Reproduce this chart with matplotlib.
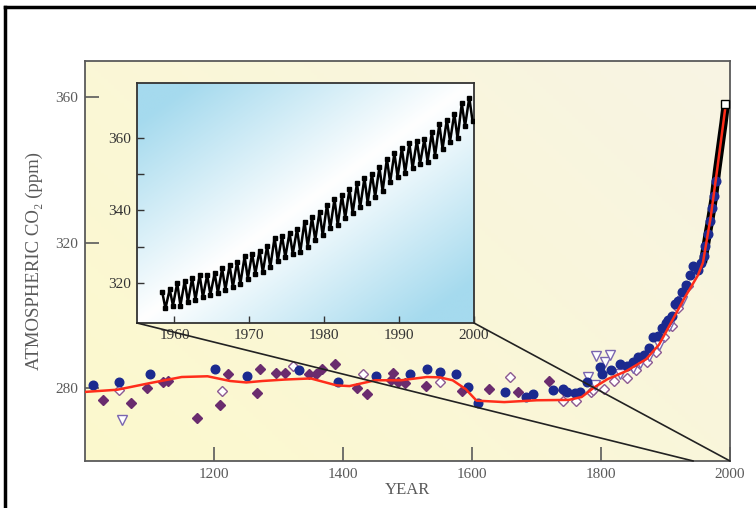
import numpy as np
import matplotlib
matplotlib.use("Agg")
import matplotlib.pyplot as plt
from matplotlib.patches import ConnectionPatch
from matplotlib.lines import Line2D

plt.rcParams['font.family'] = ['Liberation Serif', 'DejaVu Serif']

# ice core data
circle_years = [1013, 1053, 1101, 1202, 1251, 1332, 1393, 1451, 1504, 1530, 1551, 1575, 1594, 1609,
                1651, 1684, 1695, 1726, 1741, 1747, 1760, 1767, 1778, 1798, 1801, 1815, 1829, 1840,
                1850, 1858, 1866, 1875, 1881, 1888, 1894, 1900, 1904, 1910, 1915, 1920, 1925, 1932,
                1938, 1943, 1950, 1955, 1959, 1962, 1966, 1969, 1972, 1975, 1978]
circle_vals = [280.8, 281.7, 283.9, 285.4, 283.3, 285.0, 281.7, 283.3, 284.0, 285.2, 284.5, 283.8, 280.4, 276.0,
               279.0, 277.6, 278.3, 279.4, 279.7, 279.0, 278.7, 279.0, 281.7, 285.9, 284.0, 285.0, 286.8, 286.0,
               287.3, 288.5, 289.1, 291.0, 294.2, 294.5, 296.7, 298.0, 298.8, 300.0, 303.2, 304.0, 306.6, 308.5,
               311.2, 313.5, 312.5, 314.5, 316.5, 319.0, 322.5, 326.0, 329.5, 333.0, 337.0]

diamond_years = [1028, 1072, 1096, 1121, 1128, 1173, 1209, 1222, 1266, 1271, 1296, 1310, 1348, 1358,
                 1367, 1388, 1422, 1437, 1475, 1478, 1486, 1496, 1529, 1585, 1627, 1672, 1720, 1741]
diamond_vals = [276.9, 276.0, 280.2, 281.6, 282.0, 271.8, 275.5, 283.9, 278.7, 285.4, 284.3, 284.3, 283.8, 284.0,
                285.4, 286.6, 280.2, 278.3, 282.2, 284.3, 281.7, 281.5, 280.6, 279.2, 279.9, 279.0, 282.0, 279.6]

open_dia_years = [1053, 1212, 1323, 1431, 1550, 1659, 1741, 1762, 1785, 1788, 1804, 1820, 1840, 1855,
                  1871, 1886, 1897, 1910, 1920, 1935]
open_dia_vals = [279.4, 279.2, 286.1, 283.9, 281.7, 283.0, 276.4, 276.4, 279.0, 279.4, 279.9, 282.0, 282.7, 285.0,
                 287.3, 290.0, 294.2, 297.0, 302.0, 308.0]

tri_years = [1058, 1780, 1790, 1793, 1806, 1814, 1830, 1850, 1860, 1875, 1890, 1905, 1925]
tri_vals = [271.2, 283.0, 281.0, 288.8, 287.3, 289.1, 284.0, 285.5, 287.0, 289.0, 292.0, 297.0, 304.0]

# smoothed fit (red)
fit_years = [1000, 1050, 1100, 1150, 1190, 1225, 1250, 1275, 1310, 1350, 1390, 1410, 1450, 1490, 1530,
             1550, 1570, 1590, 1607, 1650, 1700, 1750, 1770, 1790, 1810, 1840, 1870, 1890, 1910, 1930,
             1950, 1958, 1970, 1980, 1993]
fit_vals = [279.0, 279.6, 281.4, 283.1, 283.3, 282.0, 281.6, 282.0, 282.4, 282.7, 280.8, 280.6, 282.2, 282.2, 283.1,
            283.0, 282.2, 279.8, 276.6, 276.2, 276.7, 276.8, 277.6, 280.3, 282.5, 284.8, 288.0, 292.0, 298.5, 305.0,
            311.0, 314.5, 327.0, 340.0, 357.5]

# Mauna Loa record in the main panel
ml_years = [1958, 1965, 1970, 1975, 1980, 1985, 1990, 1993]
ml_vals = [314.5, 322.0, 327.0, 332.5, 340.0, 346.5, 353.0, 357.5]

# inset: yearly peaks and troughs
inset_years = list(range(1958, 2000))
inset_peaks = [317.5, 318.3, 320.0, 320.6, 321.4, 322.2, 322.2, 322.7, 324.0, 324.9, 325.8, 327.3, 328.1, 328.9,
               330.1, 332.5, 333.0, 333.8, 334.8, 336.9, 338.1, 339.6, 341.5, 343.1, 344.1, 345.8, 347.4, 348.9,
               350.0, 351.8, 354.2, 355.7, 357.1, 358.4, 359.1, 359.6, 361.4, 363.7, 364.9, 366.6, 369.4, 371.0]
inset_troughs = [313.0, 313.8, 313.8, 314.8, 315.4, 316.1, 316.8, 317.3, 318.2, 318.9, 319.8, 321.2, 322.6, 323.0,
                 324.4, 326.1, 327.1, 328.0, 328.5, 330.0, 331.8, 333.1, 335.0, 336.0, 337.9, 339.3, 340.8, 342.1,
                 343.7, 345.3, 347.7, 349.2, 350.3, 351.6, 352.8, 353.4, 355.0, 356.9, 358.9, 359.8, 363.1, 364.6]

grey = '#5a5a5a'
fig = plt.figure(figsize=(7.56, 5.08), dpi=100)

ax = fig.add_axes([85/756, 47/508, 645/756, 400/508])
ax.set_xlim(1000, 2000)
ax.set_ylim(260, 370)

# cream background
gx, gy = np.meshgrid(np.linspace(0, 1, 200), np.linspace(0, 1, 200))
t = np.clip(0.6 * gx + 0.4 * gy, 0, 1)
c0 = np.array([252, 249, 205]) / 255
c1 = np.array([248, 244, 228]) / 255
bg = c0[None, None, :] * (1 - t[..., None]) + c1[None, None, :] * t[..., None]
ax.imshow(bg, extent=[0, 1, 0, 1], transform=ax.transAxes, origin='lower', aspect='auto', zorder=0)

ax.plot(ml_years, ml_vals, color='black', lw=6, solid_capstyle='butt', zorder=3)
ax.plot(diamond_years, diamond_vals, 'D', ms=5.5, color='#6a2c6e', mec='#6a2c6e', zorder=4)
ax.plot(open_dia_years, open_dia_vals, 'D', ms=5.5, mfc='white', mec='#8c5a92', mew=1.0, zorder=4)
ax.plot(tri_years, tri_vals, 'v', ms=6.5, mfc='white', mec='#7a66b0', mew=1.0, zorder=4)
ax.plot(circle_years, circle_vals, 'o', ms=6.2, color='#1b2a8f', zorder=5)
ax.plot(fit_years, fit_vals, color='#ff2d1a', lw=1.8, zorder=6)
ax.plot(ml_years[-1], ml_vals[-1] + 0.8, 's', ms=6, mfc='white', mec='black', mew=1.0, zorder=7)

ax.set_xticks([1200, 1400, 1600, 1800, 2000])
ax.set_yticks([280, 320, 360])
ax.tick_params(direction='in', length=10, width=1.2, color=grey, labelcolor=grey, labelsize=11, pad=5)
for s in ax.spines.values():
    s.set_color(grey)
    s.set_linewidth(1.3)
ax.set_xlabel('YEAR', color=grey, fontsize=12, labelpad=1)
ax.set_ylabel('ATMOSPHERIC CO\u2082 (ppm)', color=grey, fontsize=13.5, labelpad=9)

# inset
ins = fig.add_axes([137/756, 185/508, 337/756, 240/508])
ins.set_xlim(1955, 2000)
ins.set_ylim(309, 375)
ix, iy = np.meshgrid(np.linspace(0, 1, 200), np.linspace(0, 1, 200))
u = np.clip(np.abs(ix - iy) * 1.2, 0, 1)
b0 = np.array([1.0, 1.0, 1.0])
b1 = np.array([165, 218, 238]) / 255
ibg = b0[None, None, :] * (1 - u[..., None]) + b1[None, None, :] * u[..., None]
ins.imshow(ibg, extent=[0, 1, 0, 1], transform=ins.transAxes, origin='lower', aspect='auto', zorder=0)

zx, zy = [], []
for yr, pk, tr in zip(inset_years, inset_peaks, inset_troughs):
    zx += [yr + 0.37, yr + 0.8]
    zy += [pk, tr]
ins.plot(zx, zy, color='black', lw=1.8, marker='s', ms=2.8, zorder=3)

ins.set_xticks([1960, 1970, 1980, 1990, 2000])
ins.set_yticks([320, 330, 340, 350, 360])
ins.set_yticklabels(['320', '', '340', '', '360'])
ins.tick_params(direction='in', length=5, width=1.0, color='#333333', labelcolor='#333333', labelsize=11, pad=4)
for s in ins.spines.values():
    s.set_color('#333333')
    s.set_linewidth(1.3)

for xa, xb in [((0, 0), (1943, 260)), ((1, 0), (2000, 260))]:
    con = ConnectionPatch(xyA=xa, coordsA=ins.transAxes, xyB=xb, coordsB=ax.transData,
                          color='#222222', lw=1.2, zorder=2)
    fig.add_artist(con)

# outer frame
fig.add_artist(Line2D([5/756, 5/756], [0, 1 - 7/508], transform=fig.transFigure, color='black', lw=2.5))
fig.add_artist(Line2D([5/756, 1], [1 - 7/508, 1 - 7/508], transform=fig.transFigure, color='black', lw=2.5))

fig.savefig('out.png', dpi=100)
